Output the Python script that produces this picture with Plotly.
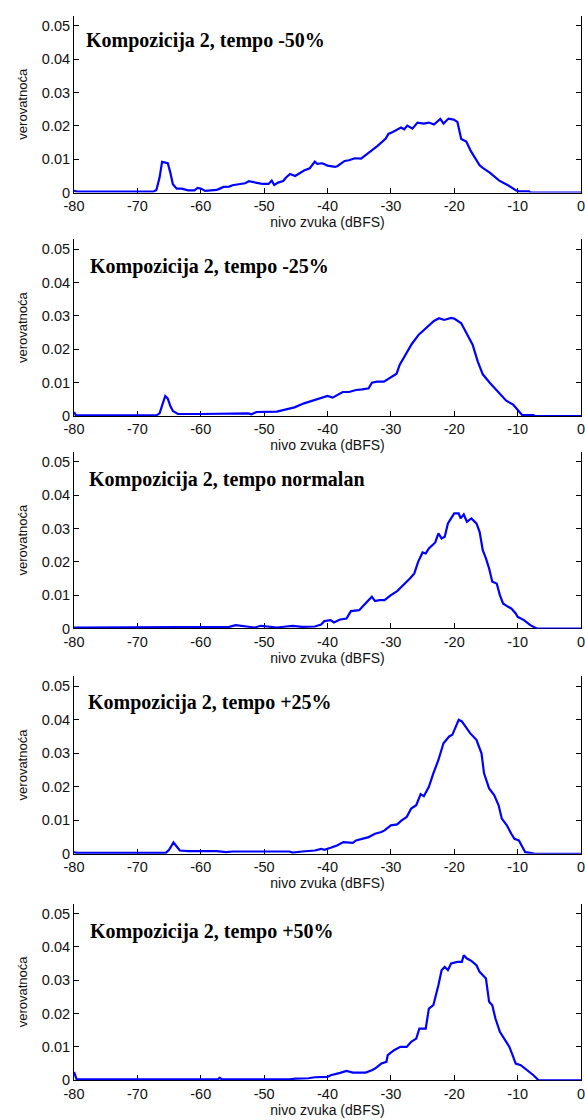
import plotly.graph_objects as go

# ---------------- data ----------------
titles = ["Kompozicija 2, tempo -50%", "Kompozicija 2, tempo -25%",
          "Kompozicija 2, tempo normalan", "Kompozicija 2, tempo +25%",
          "Kompozicija 2, tempo +50%"]

x_ticks = [-80, -70, -60, -50, -40, -30, -20, -10, 0]
x_ticklabels = ["-80", "-70", "-60", "-50", "-40", "-30", "-20", "-10", "0"]
y_ticks = [0, 0.01, 0.02, 0.03, 0.04, 0.05]
y_ticklabels = ["0", "0.01", "0.02", "0.03", "0.04", "0.05"]

level_m50 = [-80, -79.5, -75, -70, -67.5, -67, -66.5, -66.1, -65.5, -65.2, -64.8, -64.4, -63.8, -63,
             -62, -61, -60.5, -60, -59.3, -58.5, -57.5, -57, -56.4, -55.5, -55, -54, -53, -52.4,
             -51.5, -50.5, -50, -49.3, -48.8, -48.4, -47.8, -47, -46.5, -45.9, -45.1, -44.1, -43.7,
             -42.8, -42, -41.6, -40.8, -40, -38.8, -38.4, -37.3, -36.6, -35.7, -34.7, -33.6, -32.1,
             -30.8, -30.4, -29.7, -28.4, -27.9, -27.4, -26.6, -25.8, -24.8, -24, -23.2, -22.2, -21.7,
             -20.9, -20.1, -19.5, -18.9, -18.1, -17.4, -17, -16, -15.5, -14.4, -12.9, -11.6, -10.3,
             -9.8, -8.2, -8, -4, 0]
prob_m50 = [0.0005, 0.0003, 0.0003, 0.0003, 0.0003, 0.0008, 0.0045, 0.0092, 0.0090, 0.0088, 0.0060,
            0.0025, 0.0012, 0.0012, 0.0007, 0.0007, 0.0014, 0.0012, 0.0005, 0.0006, 0.0008, 0.0012,
            0.0017, 0.0018, 0.0022, 0.0025, 0.0028, 0.0034, 0.0030, 0.0027, 0.0026, 0.0026, 0.0036,
            0.0023, 0.0030, 0.0035, 0.0046, 0.0056, 0.0050, 0.0062, 0.0066, 0.0073, 0.0093, 0.0086,
            0.0088, 0.0081, 0.0077, 0.0080, 0.0095, 0.0097, 0.0103, 0.0102, 0.0118, 0.0140, 0.0162,
            0.0176, 0.0182, 0.0195, 0.0190, 0.0201, 0.0192, 0.0210, 0.0207, 0.0210, 0.0204, 0.0221,
            0.0207, 0.0222, 0.0219, 0.0212, 0.0161, 0.0153, 0.0125, 0.0112, 0.0082, 0.0074, 0.0060,
            0.0036, 0.0023, 0.0007, 0.0004, 0.0004, 0.0, 0.0, 0.0]

level_m25 = [-80, -79.7, -75, -70, -67, -66.5, -66, -65.6, -65.2, -64.8, -64.4, -63.6, -60, -57,
             -56.5, -52.5, -52, -51.2, -48, -47, -46, -45.2, -43.7, -42.6, -41.3, -40, -39.2, -38.4,
             -37.6, -36.6, -35.5, -34.5, -33.5, -33, -32.2, -31.1, -30.1, -29.1, -28.6, -27.8, -26.7,
             -25.6, -24.5, -23.7, -23.2, -22.4, -21.6, -20.5, -20, -18.9, -17.9, -17.1, -16.3, -15.5,
             -14.4, -13.1, -11.8, -10.7, -9.9, -9.3, -7.5, -7.3, 0]
prob_m25 = [0.0012, 0.0002, 0.0002, 0.0002, 0.0002, 0.0008, 0.0035, 0.0060, 0.0052, 0.0030, 0.0015,
            0.0006, 0.0006, 0.0006, 0.0008, 0.0008, 0.0005, 0.0012, 0.0013, 0.0018, 0.0021, 0.0026,
            0.0038, 0.0044, 0.0053, 0.0060, 0.0055, 0.0063, 0.0072, 0.0072, 0.0078, 0.0080, 0.0083,
            0.0100, 0.0103, 0.0103, 0.0115, 0.0127, 0.0154, 0.0179, 0.0216, 0.0244, 0.0263, 0.0278,
            0.0285, 0.0293, 0.0288, 0.0294, 0.0292, 0.0278, 0.0244, 0.0214, 0.0164, 0.0125, 0.0100,
            0.0072, 0.0046, 0.0034, 0.0016, 0.0003, 0.0003, 0.0, 0.0]

level_norm = [-80, -70, -60, -58.5, -55.5, -54.5, -53, -51.5, -50.5, -49, -48, -46.5, -45.5, -44,
              -42, -41, -40.5, -39.5, -39, -38, -37, -36.3, -35, -34.5, -33.8, -33, -32.5, -31.8,
              -31, -30, -29, -28, -27, -26.3, -25.7, -25, -24.5, -24, -23, -22.5, -22, -21.5, -21,
              -20.5, -20, -19.3, -19, -18.5, -18, -17.3, -16.5, -16, -15.5, -15, -14.5, -14, -13.3,
              -12.8, -12.3, -11.5, -11, -10.3, -10, -9, -8, -7, 0]
prob_norm = [0.0003, 0.0003, 0.0003, 0.0005, 0.0005, 0.0010, 0.0006, 0.0003, 0.0008, 0.0006, 0.0003,
             0.0006, 0.0008, 0.0005, 0.0006, 0.0012, 0.0022, 0.0025, 0.0018, 0.0027, 0.0030, 0.0052,
             0.0055, 0.0065, 0.0080, 0.0095, 0.0082, 0.0085, 0.0085, 0.0100, 0.0112, 0.0130, 0.0150,
             0.0165, 0.0200, 0.0228, 0.0225, 0.0240, 0.0258, 0.0285, 0.0270, 0.0275, 0.0315, 0.0330,
             0.0345, 0.0345, 0.0330, 0.0342, 0.0320, 0.0330, 0.0315, 0.0290, 0.0235, 0.0210, 0.0180,
             0.0140, 0.0135, 0.0100, 0.0075, 0.0065, 0.0060, 0.0045, 0.0035, 0.0025, 0.0010, 0.0, 0.0]

level_p25 = [-80, -79.6, -70, -65.5, -65, -64.3, -63.8, -63.3, -62, -57.5, -56, -55, -46, -45.5, -44,
             -42, -41, -40.5, -39.5, -38.5, -37.5, -36, -35.5, -34.5, -33.5, -32.5, -31.5, -31, -30,
             -29, -28.3, -27.5, -26.8, -26, -25.3, -24.8, -24, -23.3, -22.5, -21.7, -20.8, -20.3,
             -19.3, -18.8, -17.5, -16.5, -15.7, -15.3, -14.5, -13.7, -13, -12.5, -11.7, -11, -10.5,
             -9.8, -9.4, -8.8, -8, -7.3, 0]
prob_p25 = [0.0005, 0.0003, 0.0003, 0.0003, 0.0012, 0.0034, 0.0022, 0.0010, 0.0008, 0.0008, 0.0005,
            0.0007, 0.0007, 0.0004, 0.0007, 0.0010, 0.0015, 0.0012, 0.0018, 0.0025, 0.0035, 0.0033,
            0.0040, 0.0045, 0.0050, 0.0060, 0.0065, 0.0070, 0.0085, 0.0088, 0.0100, 0.0110, 0.0135,
            0.0145, 0.0178, 0.0172, 0.0200, 0.0240, 0.0280, 0.0330, 0.0350, 0.0355, 0.0400, 0.0395,
            0.0360, 0.0340, 0.0300, 0.0240, 0.0195, 0.0175, 0.0145, 0.0105, 0.0085, 0.0060, 0.0045,
            0.0040, 0.0025, 0.0005, 0.0003, 0.0, 0.0]

level_p50 = [-80, -79.6, -75, -70, -65, -57.3, -57, -56.7, -46, -45, -43, -42, -40, -39.5, -38, -37,
             -36, -34, -33, -32.5, -31.5, -30.7, -30.5, -29.5, -28.5, -27.5, -26.8, -26, -25.5, -24.5,
             -24, -23.3, -22.5, -22, -21.5, -21, -20.5, -19.5, -18.8, -18.5, -18, -17.3, -16.5, -16,
             -15, -14.5, -14, -13.5, -12.8, -12, -11.3, -10.8, -10.3, -9.5, -8.5, -7.5, -6.7, 0]
prob_p50 = [0.0025, 0.0003, 0.0003, 0.0003, 0.0003, 0.0003, 0.0007, 0.0003, 0.0003, 0.0005, 0.0006,
            0.0009, 0.0010, 0.0015, 0.0022, 0.0028, 0.0023, 0.0023, 0.0030, 0.0035, 0.0050, 0.0055,
            0.0075, 0.0090, 0.0100, 0.0100, 0.0115, 0.0125, 0.0155, 0.0155, 0.0215, 0.0225, 0.0285,
            0.0330, 0.0340, 0.0330, 0.0350, 0.0355, 0.0355, 0.0375, 0.0365, 0.0358, 0.0345, 0.0325,
            0.0305, 0.0235, 0.0225, 0.0185, 0.0145, 0.0120, 0.0100, 0.0075, 0.0050, 0.0045, 0.0030,
            0.0015, 0.0, 0.0]

levels = [level_m50, level_m25, level_norm, level_p25, level_p50]
probs = [prob_m50, prob_m25, prob_norm, prob_p25, prob_p50]

# ---------------- layout geometry (pixels) ----------------
W, H = 585, 1120
ML, MR = 74, 1
PW = W - ML - MR
zero_px = [194, 419, 633, 860, 1088]
top_px = [16, 241, 455, 681, 910]
title_px = [(86, 41), (90, 268), (89, 483), (88, 708), (90, 938)]

fig = go.Figure()
tick_font = dict(family="Liberation Sans, Arial, sans-serif", size=14.5, color="#111")
for i in range(5):
    xa = "x" if i == 0 else f"x{i+1}"
    ya = "y" if i == 0 else f"y{i+1}"
    fig.add_trace(go.Scatter(x=levels[i], y=probs[i], mode="lines",
                             line=dict(color="#0000ff", width=2.2),
                             xaxis=xa, yaxis=ya, showlegend=False))
    xkey = "xaxis" if i == 0 else f"xaxis{i+1}"
    ykey = "yaxis" if i == 0 else f"yaxis{i+1}"
    fig.layout[xkey] = dict(
        domain=[0, 1], anchor=ya, range=[-80, 0],
        tickvals=x_ticks, ticktext=x_ticklabels,
        ticks="inside", ticklen=5, tickcolor="black",
        showline=True, linecolor="black", linewidth=1, mirror=False,
        showgrid=False, zeroline=False, tickfont=tick_font,
        ticklabeloverflow="allow",
        title=dict(text="nivo zvuka (dBFS)", standoff=3,
                   font=dict(family="Liberation Sans, Arial, sans-serif", size=14, color="#111")),
        layer="below traces")
    fig.layout[ykey] = dict(
        domain=[(H - zero_px[i]) / H, (H - top_px[i]) / H], anchor=xa, range=[0, 0.053],
        tickvals=y_ticks, ticktext=y_ticklabels,
        ticks="inside", ticklen=5, tickcolor="black",
        showline=True, linecolor="black", linewidth=1, mirror="ticks",
        showgrid=False, zeroline=False, tickfont=tick_font,
        title=dict(text="verovatnoća", standoff=11,
                   font=dict(family="Liberation Sans, Arial, sans-serif", size=13, color="#111")),
        layer="below traces")
    tx, ty = title_px[i]
    fig.add_annotation(text=f"<b>{titles[i]}</b>", x=(tx - ML) / PW, y=(H - ty) / H,
                       xref="paper", yref="paper", xanchor="left", yanchor="middle",
                       showarrow=False, xshift=-2,
                       font=dict(family="Liberation Serif, Times New Roman, serif", size=20, color="black"))

fig.update_layout(width=W, height=H, margin=dict(l=ML, r=MR, t=0, b=0),
                  plot_bgcolor="white", paper_bgcolor="white")
fig.write_html("out.html")
